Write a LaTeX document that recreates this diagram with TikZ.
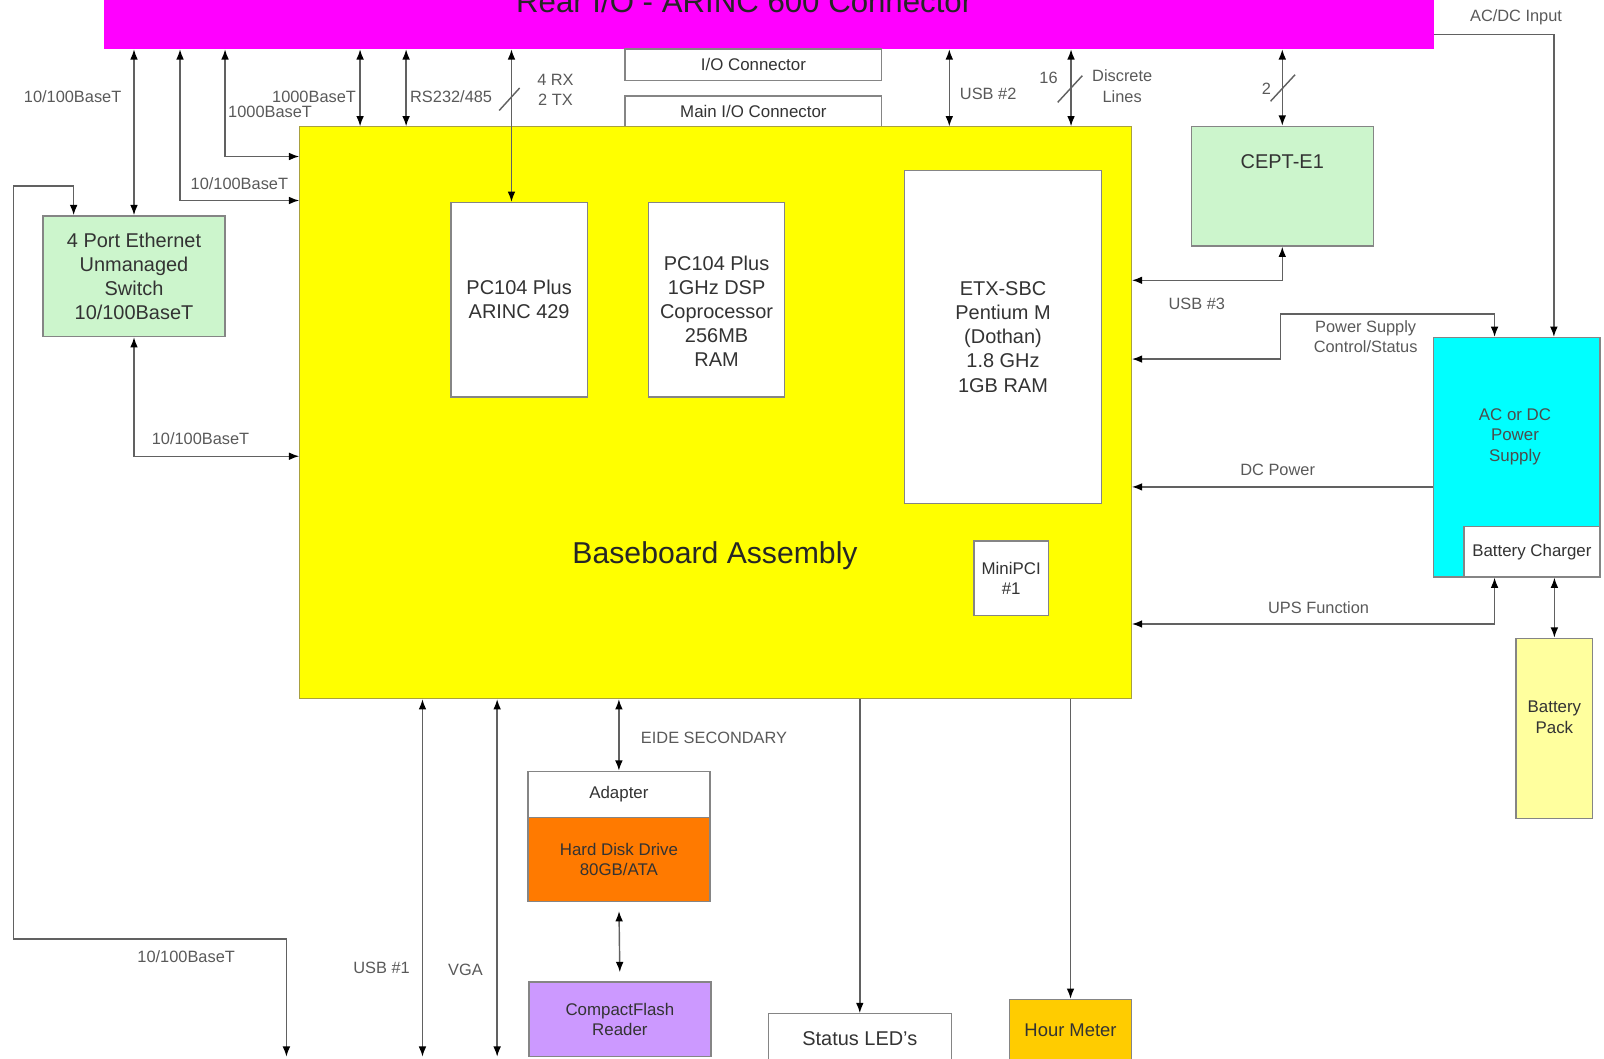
\documentclass[tikz,border=0pt]{standalone}
\usepackage{fontspec}
\setmainfont{Liberation Sans}
\usepackage{tikz}
\usetikzlibrary{arrows.meta,positioning,calc}
\definecolor{rmag}{HTML}{FF00FF}
\definecolor{byel}{HTML}{FFFF00}
\definecolor{swgrn}{HTML}{CCF5CC}
\definecolor{pcyan}{HTML}{00FFFF}
\definecolor{batyel}{HTML}{FFFF9E}
\definecolor{hddor}{HTML}{FF7A00}
\definecolor{cfpur}{HTML}{CC99FF}
\definecolor{hmgold}{HTML}{FFCC00}
\definecolor{bgray}{HTML}{858585}
\definecolor{yedge}{HTML}{A8A040}

\begin{document}
\begin{tikzpicture}[x=1pt,y=-1pt,
    >={Latex[length=10pt,width=7.5pt,color=black]},
    blk/.style={draw=bgray,line width=1.3pt,inner sep=0pt,align=center,
      text=black!80,font=\fontsize{19.5}{23.5}\selectfont},
    sblk/.style={blk,font=\fontsize{16.5}{20}\selectfont},
    txt/.style={inner sep=0pt,align=center,text=black!80},
    lbl/.style={inner sep=0pt,align=center,text=black!65,
      font=\fontsize{16}{20}\selectfont},
    wire/.style={draw=black!62,line width=1.4pt}]
  \clip (0,0) rectangle (1568,1035);

  % connector strip and baseboard
  \node[fill=rmag,minimum width=1300pt,minimum height=88pt] (rear) at (752,4) {};
  \node[anchor=base,text=black!85,font=\fontsize{30.5}{36}\selectfont] (ttl)
    at (727.5,12.5) {Rear I/O - ARINC 600 Connector};
  \node[sblk,fill=white,minimum width=251pt,minimum height=31pt] (iocon) at (736.5,63.5) {I/O Connector};
  \node[sblk,fill=white,minimum width=251pt,minimum height=30pt] (mainio) at (736.5,109) {Main I/O Connector};
  \node[fill=byel,draw=yedge,line width=1pt,minimum width=813pt,minimum height=559pt] (base) at (699.5,403.5) {};
  \node[text=black!85,font=\fontsize{29.5}{34}\selectfont] (btxt) at (699,543) {Baseboard Assembly};

  % boards on the baseboard
  \node[blk,fill=white,minimum width=133pt,minimum height=190pt] (arinc) at (507.5,293) {PC104 Plus\\ARINC 429};
  \node[blk,fill=white,minimum width=133pt,minimum height=190pt] (dsp) at (700.5,293) {};
  \node[txt,font=\fontsize{19.5}{23.5}\selectfont] (dsptxt) at (700.5,304)
    {PC104 Plus\\1GHz DSP\\Coprocessor\\256MB\\RAM};
  \node[blk,fill=white,minimum width=193pt,minimum height=325pt] (etx) at (980.5,329.5)
    {ETX-SBC\\Pentium M\\(Dothan)\\1.8 GHz\\1GB RAM};
  \node[sblk,fill=white,minimum width=73pt,minimum height=73pt] (mpci) at (988.5,565.5) {MiniPCI\\\#1};

  % outside units
  \node[blk,fill=swgrn,minimum width=178pt,minimum height=118pt] (sw) at (131,270)
    {4 Port Ethernet\\Unmanaged\\Switch\\10/100BaseT};
  \node[blk,fill=swgrn,minimum width=178pt,minimum height=117pt] (cept) at (1253.5,182) {};
  \node[txt,font=\fontsize{19.5}{23.5}\selectfont] (ceptl) at (1253.5,158) {CEPT-E1};
  \node[blk,fill=pcyan,minimum width=163pt,minimum height=234pt] (ps) at (1482.5,447) {};
  \node[txt,text=black!70,font=\fontsize{16.5}{20}\selectfont] (pstxt) at (1481,427) {AC or DC\\Power\\Supply};
  \node[sblk,fill=white,minimum width=133pt,minimum height=49pt] (chg) at (1497.5,539.5) {Battery Charger};
  \node[sblk,fill=batyel,minimum width=75pt,minimum height=176pt] (bat) at (1519.5,712) {};
  \node[txt,font=\fontsize{16.5}{20}\selectfont] (battxt) at (1519.5,701) {Battery\\Pack};
  \node[sblk,fill=white,minimum width=178pt,minimum height=45pt] (adp) at (605,776.5) {Adapter};
  \node[sblk,fill=hddor,minimum width=178pt,minimum height=82pt] (hdd) at (605,840) {Hard Disk Drive\\80GB/ATA};
  \node[sblk,fill=cfpur,minimum width=178pt,minimum height=73pt] (cf) at (606,996.5) {CompactFlash\\Reader};
  \node[blk,fill=white,minimum width=179pt,minimum height=48pt] (led) at (840.5,1015) {Status LED's};
  \node[blk,fill=hmgold,font=\fontsize{18}{22}\selectfont,minimum width=119pt,minimum height=60pt] (hm) at (1046.5,1007) {Hour Meter};

  % free ends at the bottom edge
  \coordinate (e1) at (280,1033);
  \coordinate (e2) at (413,1033);
  \coordinate (e3) at (486,1033);

  % connectors
  \draw[wire,<->] (rear.south -| sw.north) -- (sw.north);
  \draw[wire,<->] (rear.south -| 176,0) |- (base.west |- 0,196);
  \draw[wire,<->] (rear.south -| 220,0) |- (base.west |- 0,153);
  \draw[wire,<->] (rear.south -| 352,0) -- (base.north -| 352,0);
  \draw[wire,<->] (rear.south -| 397,0) -- (base.north -| 397,0);
  \draw[wire,<->] (rear.south -| 500,0) -- (arinc.north -| 500,0);
  \draw[wire,<->] (rear.south -| 928,0) -- (base.north -| 928,0);
  \draw[wire,<->] (rear.south -| 1047,0) -- (base.north -| 1047,0);
  \draw[wire,<->] (rear.south -| cept.north) -- (cept.north);
  \draw[wire,->] (rear.east |- 0,34) -| (ps.north -| 1519,0);
  \draw[wire,<->] (cept.south) |- (base.east |- 0,274);
  \draw[wire,<->] (base.east |- 0,351) -| (1252,307) -| (ps.north -| 1461,0);
  \draw[wire,->] (ps.west |- 0,476) -- (base.east |- 0,476);
  \draw[wire,<->] (chg.south -| 1461,0) |- (base.east |- 0,610);
  \draw[wire,<->] (chg.south -| bat.north) -- (bat.north);
  \draw[wire,<->] (sw.south) |- (base.west |- 0,446);
  \draw[wire,<->] (sw.north -| 72,0) |- (13,182) |- (e1 |- 0,918) -- (e1);
  \draw[wire,<->] (base.south -| e2) -- (e2);
  \draw[wire,<->] (base.south -| e3) -- (e3);
  \draw[wire,<->] (base.south -| adp.north) -- (adp.north);
  \draw[wire,<->,shorten <=9pt,shorten >=9pt] (hdd.south) -- (cf.north);
  \draw[wire,->] (base.south -| led.north) -- (led.north);
  \draw[wire,->] (base.south -| hm.north) -- (hm.north);

  % bus width marks
  \draw[wire] (488,108) -- (508,86);
  \draw[wire] (1034,100) -- (1058,74);
  \draw[wire] (1242,99) -- (1266,73);

  % labels
  \node[lbl] (l1) at (71,94.5) {10/100BaseT};
  \node[lbl] (l2) at (234,179.5) {10/100BaseT};
  \node[lbl] (l3) at (307,94.5) {1000BaseT};
  \node[lbl] (l4) at (264,109) {1000BaseT};
  \node[lbl] (l5) at (441,94.5) {RS232/485};
  \node[lbl] (l6) at (543,88) {4 RX\\2 TX};
  \node[lbl] (l7) at (966,92) {USB \#2};
  \node[lbl] (l8) at (1025,76) {16};
  \node[lbl] (l9) at (1097,84) {Discrete\\Lines};
  \node[lbl] (l10) at (1238,87) {2};
  \node[lbl] (l11) at (1482,17) {AC/DC Input};
  \node[lbl] (l12) at (1170,297) {USB \#3};
  \node[lbl] (l13) at (1335,329) {Power Supply\\Control/Status};
  \node[lbl] (l14) at (1249,459) {DC Power};
  \node[lbl] (l15) at (1289,594) {UPS Function};
  \node[lbl] (l16) at (196,429) {10/100BaseT};
  \node[lbl] (l17) at (182,935) {10/100BaseT};
  \node[lbl] (l18) at (373,946) {USB \#1};
  \node[lbl] (l19) at (455,948) {VGA};
  \node[lbl] (l20) at (698,721) {EIDE SECONDARY};
\end{tikzpicture}
\end{document}
